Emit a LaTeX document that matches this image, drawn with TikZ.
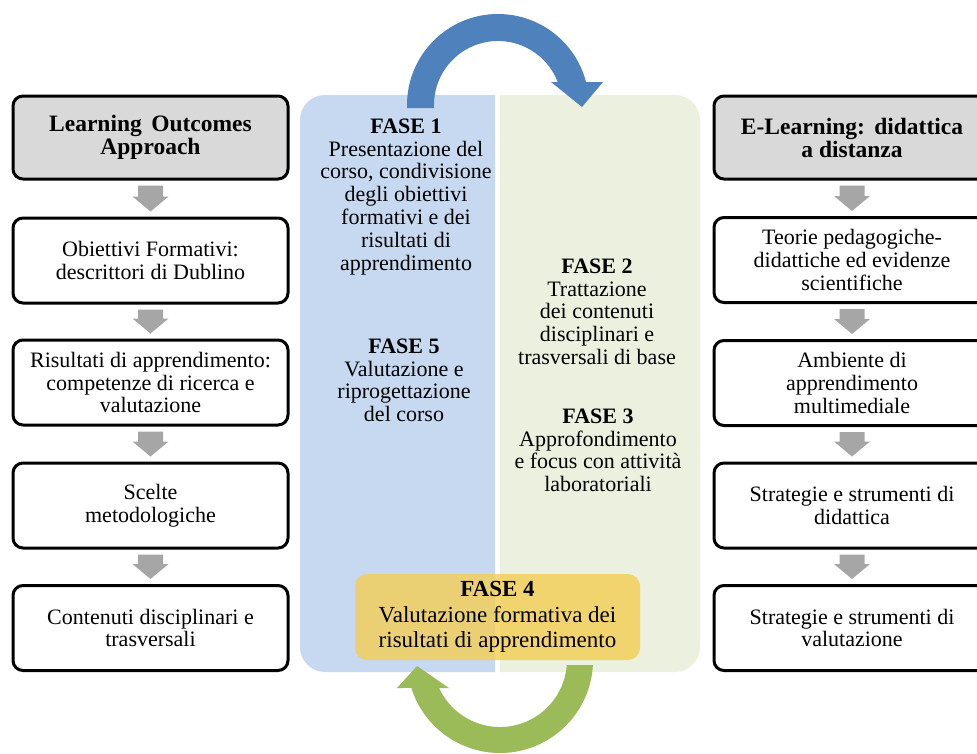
\documentclass[tikz,border=0pt]{standalone}
\usepackage{fontspec}
\setmainfont{Liberation Serif}
\usetikzlibrary{calc}
\definecolor{boxgray}{HTML}{D9D9D9}
\definecolor{arrgray}{HTML}{A6A6A6}
\definecolor{panelblue}{HTML}{C6D9F0}
\definecolor{panelgreen}{HTML}{EBF1DE}
\definecolor{arrblue}{HTML}{4F81BD}
\definecolor{arrgreen}{HTML}{9BBB59}
\definecolor{fasegold}{HTML}{F5CD50}
\newcommand{\grayarrow}[2]{\fill[arrgray] ($(#1.south)+(-12.5,-5)$) -- ++(25,0) -- ($(#2.north)+(12.5,20)$) -- ++(5.5,0) -- ($(#2.north)+(0,5)$) -- ++(-18,15) -- ++(5.5,0) -- cycle;}
\begin{document}
\begin{tikzpicture}[x=1pt,y=1pt,
  stepbox/.style={draw=black, line width=3pt, rounded corners=10pt, fill=white,
    minimum width=275pt, minimum height=85pt, align=center, inner sep=2pt,
    font=\fontsize{22}{22.8}\selectfont},
  headbox/.style={stepbox, fill=boxgray, minimum height=83pt,
    font=\fontsize{23.5}{23}\selectfont\bfseries},
  fasetext/.style={align=center, inner sep=0pt, anchor=north,
    font=\fontsize{22}{22.8}\selectfont},
  fourbox/.style={fill=fasegold, fill opacity=0.78, text opacity=1, rounded corners=12pt,
    minimum width=285pt, minimum height=86pt, align=center, inner sep=0pt,
    font=\fontsize{23}{25.5}\selectfont},
]
\useasboundingbox (0,0) rectangle (977,-753);
\fill[white] (0,0) rectangle (977,-753);
\clip (0,0) rectangle (977,-753);

% central panels
\fill[panelblue] (495,-95) -- (325,-95) arc[start angle=90,end angle=180,radius=25]
  -- (300,-647) arc[start angle=180,end angle=270,radius=25] -- (495,-672) -- cycle;
\fill[panelgreen] (500,-95) -- (675,-95) arc[start angle=90,end angle=0,radius=25]
  -- (700,-647) arc[start angle=0,end angle=-90,radius=25] -- (500,-672) -- cycle;

% circular arrows
\fill[arrblue] (407,-108) -- (407,-105) arc[start angle=180, end angle=14.6, radius=91]
  -- (603,-82) -- (582,-107) -- (551,-82) -- (557.7,-82)
  arc[start angle=21.05, end angle=180, radius=64] -- (434,-108) -- cycle;
\fill[arrgreen] (566.8,-665) -- (592.9,-665) arc[start angle=-3.08, end angle=-162.5, radius=93]
  -- (397,-688) -- (417,-666) -- (449,-688) -- (439.1,-688)
  arc[start angle=-155.3, end angle=-4.28, radius=67] -- cycle;

% phase texts
\node[fasetext] (f1) at (406,-118.5) {\textbf{FASE 1}\\Presentazione del\\corso, condivisione\\degli obiettivi\\formativi e dei\\risultati di\\apprendimento};
\node[fasetext] (f5) at (404,-338.5) {\textbf{FASE 5}\\Valutazione e\\riprogettazione\\del corso};
\node[fasetext] (f2) at (597,-258.5) {\textbf{FASE 2}\\Trattazione\\dei contenuti\\disciplinari e\\trasversali di base};
\node[fasetext] (f3) at (598,-408.5) {\textbf{FASE 3}\\Approfondimento\\e focus con attività\\laboratoriali};
\node[fourbox] (f4) at (497.5,-617) {\textbf{FASE 4}\\Valutazione formativa dei\\risultati di apprendimento};

% left column
\node[headbox] (L1) at (150.5,-137.5) {Learning\hspace{0.4em}Outcomes\\Approach};
\node[stepbox] (L2) at (150.5,-260.5) {Obiettivi Formativi:\\descrittori di Dublino};
\node[stepbox] (L3) at (150.5,-382.5) {Risultati di apprendimento:\\competenze di ricerca e\\valutazione};
\node[stepbox] (L4) at (150.5,-505.5) {Scelte\\metodologiche};
\node[stepbox] (L5) at (150.5,-628) {Contenuti disciplinari e\\trasversali};

% right column
\node[headbox, minimum width=276pt] (R1) at (852,-137.5) {E-Learning:\hspace{0.4em}didattica\\a distanza};
\node[stepbox, minimum width=276pt] (R2) at (852,-260) {Teorie pedagogiche-\\didattiche ed evidenze\\scientifiche};
\node[stepbox, minimum width=276pt] (R3) at (852,-383) {Ambiente di\\apprendimento\\multimediale};
\node[stepbox, minimum width=276pt] (R4) at (852,-505.5) {Strategie e strumenti di\\didattica};
\node[stepbox, minimum width=276pt] (R5) at (852,-628) {Strategie e strumenti di\\valutazione};

\grayarrow{L1}{L2}
\grayarrow{L2}{L3}
\grayarrow{L3}{L4}
\grayarrow{L4}{L5}
\grayarrow{R1}{R2}
\grayarrow{R2}{R3}
\grayarrow{R3}{R4}
\grayarrow{R4}{R5}
\end{tikzpicture}
\end{document}
